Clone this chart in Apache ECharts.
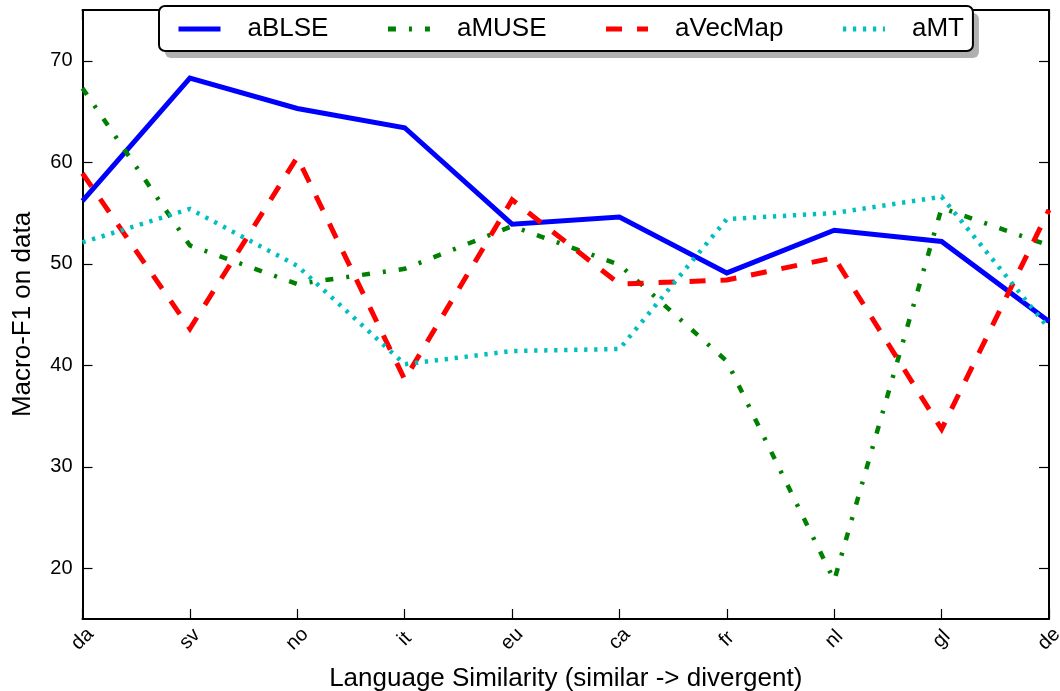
<!DOCTYPE html>
<html>
<head>
<meta charset="utf-8">
<script src="https://cdn.jsdelivr.net/npm/echarts@6/dist/echarts.min.js"></script>
<style>
html,body{margin:0;padding:0;background:#fff;}
#c{width:1060px;height:691px;}
</style>
</head>
<body>
<div id="c"></div>
<script>
const categories = ['da','sv','no','it','eu','ca','fr','nl','gl','de'];
const aBLSE   = [56.2, 68.3, 65.3, 63.4, 53.9, 54.6, 49.1, 53.3, 52.2, 44.3];
const aMUSE   = [67.3, 51.8, 48.0, 49.5, 53.7, 49.9, 40.4, 18.8, 55.5, 51.8];
const aVecMap = [58.9, 43.6, 60.5, 38.6, 56.3, 48.0, 48.4, 50.6, 33.7, 55.3];
const aMT     = [52.1, 55.4, 49.8, 40.1, 41.4, 41.6, 54.4, 55.0, 56.6, 43.6];
const yTicks  = [20, 30, 40, 50, 60, 70];

const FONT = 'Liberation Sans, Arial, Helvetica, sans-serif';
const chart = echarts.init(document.getElementById('c'), null, {renderer: 'canvas'});

function mkSeries(name, data, color, width, dash) {
  return {
    name: name, type: 'line', data: data,
    symbol: 'none', showSymbol: false, smooth: false,
    lineStyle: {color: color, width: width, type: dash, cap: 'butt', join: 'miter'},
    itemStyle: {color: color},
    emphasis: {disabled: true},
    animation: false
  };
}

const axisLineStyle = {show: true, lineStyle: {color: '#000', width: 2}};

chart.setOption({
  animation: false,
  backgroundColor: '#fff',
  textStyle: {fontFamily: FONT},
  grid: {left: 82.5, right: 11, top: 10, bottom: 72, containLabel: false, outerBoundsMode: 'none'},
  legend: {
    data: ['aBLSE', 'aMUSE', 'aVecMap', 'aMT'],
    left: 159, top: 6, z: 10,
    orient: 'horizontal',
    itemWidth: 42, itemHeight: 14, itemGap: 57,
    padding: [10, 9, 9, 17],
    backgroundColor: '#fff',
    borderColor: '#000', borderWidth: 2, borderRadius: 6,
    textStyle: {color: '#000', fontSize: 26, fontFamily: FONT, lineHeight: 26, padding: [0, 0, 0, 22]},
    itemStyle: {opacity: 0, color: 'rgba(0,0,0,0)', borderWidth: 0},
    lineStyle: {width: 5, opacity: 1},
    selectedMode: false
  },
  xAxis: [{
    type: 'category', data: categories, boundaryGap: false,
    position: 'bottom',
    axisLine: axisLineStyle,
    axisTick: {show: true, inside: true, length: 10, interval: 0, lineStyle: {color: '#000', width: 1.2}},
    axisLabel: {show: true, interval: 0, rotate: 45, align: 'center', verticalAlign: 'middle', margin: 20,
                color: '#000', fontSize: 20, fontFamily: FONT},
    splitLine: {show: false},
    name: 'Language Similarity (similar -> divergent)',
    nameLocation: 'middle', nameGap: 47,
    nameTextStyle: {color: '#000', fontSize: 26, fontFamily: FONT}
  }, {
    type: 'category', data: categories, boundaryGap: false,
    position: 'top',
    axisLine: axisLineStyle,
    axisTick: {show: true, inside: true, length: 10, interval: 0, lineStyle: {color: '#000', width: 1.2}},
    axisLabel: {show: false},
    splitLine: {show: false}
  }],
  yAxis: [{
    type: 'value', min: 15, max: 75, position: 'left',
    axisLine: axisLineStyle,
    axisTick: {show: true, inside: true, length: 10, customValues: yTicks, lineStyle: {color: '#000', width: 1.2}},
    axisLabel: {show: true, customValues: yTicks, margin: 10, color: '#000', fontSize: 20, fontFamily: FONT},
    splitLine: {show: false},
    name: 'Macro-F1 on data',
    nameLocation: 'middle', nameGap: 47,
    nameTextStyle: {color: '#000', fontSize: 26, fontFamily: FONT}
  }, {
    type: 'value', min: 15, max: 75, position: 'right',
    axisLine: axisLineStyle,
    axisTick: {show: true, inside: true, length: 10, customValues: yTicks, lineStyle: {color: '#000', width: 1.2}},
    axisLabel: {show: false},
    splitLine: {show: false}
  }],
  series: [
    mkSeries('aBLSE', aBLSE, '#0000ff', 5, 'solid'),
    mkSeries('aMUSE', aMUSE, '#008000', 4.5, [8, 13, 3, 13]),
    mkSeries('aVecMap', aVecMap, '#ff0000', 5, [16, 15]),
    mkSeries('aMT', aMT, '#00bfbf', 4.5, [3.3, 6.7])
  ]
});

// legend drop shadow: a gray box offset behind the legend frame
(function () {
  let w = 814, h = 45;
  try {
    const legendModel = chart.getModel().getComponent('legend');
    const view = chart.getViewOfComponentModel(legendModel);
    const r = view.group.getBoundingRect();
    if (r && r.width > 0) { w = r.width; h = r.height; }
  } catch (e) {}
  chart.setOption({
    graphic: [{
      type: 'rect', z: 5, silent: true,
      shape: {x: 159 + 6, y: 6 + 7, width: w - 2, height: h - 2, r: 6},
      style: {fill: '#b0b0b0'}
    }]
  });
})();
</script>
</body>
</html>
